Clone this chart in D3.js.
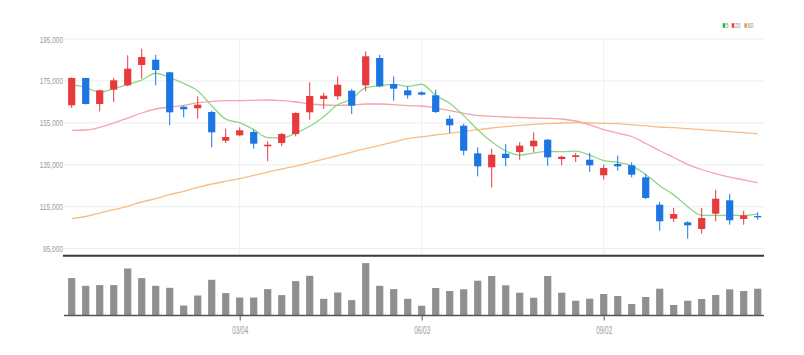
<!DOCTYPE html>
<html><head><meta charset="utf-8">
<script src="https://cdn.jsdelivr.net/npm/d3@7"></script>
<style>html,body{margin:0;padding:0;background:#fff;}svg{display:block;font-family:"Liberation Sans",Arial,sans-serif;}</style>
</head><body><svg id="chart" width="804" height="355"></svg>
<script>
const dates = ["12/11","12/18","12/25","01/01","01/08","01/15","01/22","01/29","02/05","02/12","02/19","02/26","03/04","03/11","03/18","03/25","04/01","04/08","04/15","04/22","04/29","05/06","05/13","05/20","05/27","06/03","06/10","06/17","06/24","07/01","07/08","07/15","07/22","07/29","08/05","08/12","08/19","08/26","09/02","09/09","09/16","09/23","09/30","10/07","10/14","10/21","10/28","11/04","11/11","11/18"];
const open  = [163380,176400,164000,170820,172920,182600,185130,179120,162710,161950,160190,146500,149070,150650,143830,145400,149700,160040,166390,167670,170340,172920,185940,173540,170530,169580,168150,156990,153650,140490,133810,140300,141110,143830,146980,137770,138730,137440,130000,135390,134770,129040,115980,109300,107580,104390,111690,118070,109160,110590];
const high  = [176730,176500,170820,176400,187230,190370,187510,179300,163190,167670,160810,152220,152890,151750,146210,150170,160040,174350,169250,177210,171150,189130,187510,177210,172440,170060,170820,158610,154610,143350,142680,144930,145880,150500,147310,139350,140630,140630,135050,139350,136200,130620,117270,114400,108060,114400,123130,121220,113100,112350];
const low   = [162100,163800,160520,164960,172440,176070,172920,153840,157660,157000,143350,145400,148600,142680,136680,143830,148600,156510,161620,166050,159230,170060,171970,165580,166530,168150,159710,150170,139540,129520,124280,134290,137440,140960,134580,134770,136340,131570,127900,132190,129040,118700,103580,107730,99760,102150,108060,106440,106440,108820];
const close = [176400,164000,170530,175300,180840,186420,180220,160040,161470,163670,150500,148260,151460,145070,144590,149700,159710,167820,167960,173210,163190,186750,172440,171300,168150,168440,160190,153840,141730,134290,139820,138250,144120,146500,138560,138870,139540,134770,133480,134290,130290,119170,108060,111540,106150,109640,118840,108540,110920,109970];
const ma5  = [173200,171800,169700,171300,173410,175420,178660,176560,173800,170360,163180,156790,155070,151790,147980,147820,150110,153380,157960,163680,166380,171790,172710,173380,172370,173420,168100,164380,158470,151700,145970,141590,139640,140600,141450,141260,141520,139650,137040,136190,134470,130400,125060,120670,115040,110910,110850,110940,110820,111580];
const ma20 = [151460,151600,152890,154940,157320,159710,161620,162570,163380,164620,165290,165580,165580,165770,165910,165580,164960,164000,163520,163380,163520,164000,164000,163670,163190,163050,162100,160810,159570,158610,158140,157800,157560,157320,157180,156850,155900,154100,151840,150170,148500,145160,141730,138490,135240,132770,130760,129090,127850,126470];
const ma60 = [109300,110350,112020,113590,115220,117270,118840,120750,122370,124280,125850,127140,128380,130000,131570,133010,134430,136010,137770,139350,141110,142690,144310,145880,147450,148410,149220,150030,150980,151750,152560,153180,153850,154330,154610,154940,155080,154940,154800,154610,154130,153650,153030,152700,152220,151750,151270,150790,150320,149700];
const volume = [374,297,304,304,470,374,297,277,100,200,357,224,180,180,264,204,344,397,167,230,154,524,297,264,167,98,275,245,262,348,395,302,228,178,395,228,148,168,215,195,115,185,268,105,148,165,205,262,245,268];
const yTicks = [95000,115000,135000,155000,175000,195000];
const xTickLabels = ["03/04","06/03","09/02"];
const legendItems = ["5","20","60"];

const svg = d3.select("#chart");
svg.append("rect").attr("width",804).attr("height",355).attr("fill","#fff");

const x = d3.scalePoint().domain(dates).range([64.7,764.7]).padding(0.5);
const y = d3.scaleLinear().domain([95000,195000]).range([248.7,39]);
const yv = d3.scaleLinear().domain([0,550]).range([315.5,260.5]);
const bodyW = 7.2;
const UP = "#e8393d", DOWN = "#1b76e4";

// horizontal grid
svg.append("g").selectAll("line").data(yTicks).join("line")
  .attr("x1",64).attr("x2",764).attr("y1",d=>y(d)).attr("y2",d=>y(d))
  .attr("stroke","#ececec").attr("stroke-width",1);
// vertical grid
svg.append("g").selectAll("line").data(xTickLabels).join("line")
  .attr("x1",d=>x(d)).attr("x2",d=>x(d)).attr("y1",39).attr("y2",255)
  .attr("stroke","#efefef").attr("stroke-width",1);

// y axis labels
const yAxis = svg.append("g").attr("transform","translate(64,0)")
  .call(d3.axisLeft(y).tickValues(yTicks).tickFormat(d3.format(",")).tickSize(0).tickPadding(1));
yAxis.select(".domain").remove();
yAxis.selectAll("text").attr("fill","#9a9a9a").attr("font-size","9.5px")
  .attr("textLength",function(d){return d3.format(",")(d).length*3.33;})
  .attr("lengthAdjust","spacingAndGlyphs");

// MA lines
const lineGen = arr => d3.line().x((d,i)=>x(dates[i])).y(d=>y(d)).curve(d3.curveMonotoneX)(arr);
svg.append("path").attr("d",lineGen(ma60)).attr("fill","none").attr("stroke","#f7bd86").attr("stroke-width",1.3);
svg.append("path").attr("d",lineGen(ma20)).attr("fill","none").attr("stroke","#f4a4aa").attr("stroke-width",1.3);
svg.append("path").attr("d",lineGen(ma5)).attr("fill","none").attr("stroke","#8cd68a").attr("stroke-width",1.3);

// candles
const cg = svg.append("g").selectAll("g").data(dates).join("g");
cg.append("line")
  .attr("x1",d=>x(d)).attr("x2",d=>x(d))
  .attr("y1",(d,i)=>y(high[i])).attr("y2",(d,i)=>y(low[i]))
  .attr("stroke",(d,i)=>close[i]>=open[i]?UP:DOWN).attr("stroke-width",1);
cg.append("rect")
  .attr("x",d=>x(d)-bodyW/2).attr("width",bodyW)
  .attr("y",(d,i)=>y(Math.max(open[i],close[i])))
  .attr("height",(d,i)=>Math.max(1,Math.abs(y(open[i])-y(close[i]))))
  .attr("fill",(d,i)=>close[i]>=open[i]?UP:DOWN);

// separator line
svg.append("line").attr("x1",63).attr("x2",764).attr("y1",255.7).attr("y2",255.7)
  .attr("stroke","#3a3a3a").attr("stroke-width",2);

// volume bars
svg.append("g").selectAll("rect").data(volume).join("rect")
  .attr("x",(d,i)=>x(dates[i])-bodyW/2).attr("width",bodyW)
  .attr("y",d=>yv(d)).attr("height",d=>yv(0)-yv(d))
  .attr("fill","#8f8f8f");

// x axis
const xAxis = svg.append("g").attr("transform","translate(0,315.5)")
  .call(d3.axisBottom(x).tickValues(xTickLabels).tickSize(5).tickPadding(6));
xAxis.select(".domain").remove();
xAxis.selectAll(".tick line").attr("stroke","#555");
xAxis.selectAll("text").attr("fill","#9a9a9a").attr("font-size","11px")
  .attr("textLength",16).attr("lengthAdjust","spacingAndGlyphs");
svg.append("line").attr("x1",64).attr("x2",764).attr("y1",315.5).attr("y2",315.5)
  .attr("stroke","#555").attr("stroke-width",1.5);

// legend
const legColors = ["#22b82a","#e8413f","#f29a36"];
const legX = [722.7,731.7,744.3];
const legW = [2.6,5.6,6];
const lg = svg.append("g");
legendItems.forEach((t,i)=>{
  lg.append("rect").attr("x",legX[i]).attr("y",23.2).attr("width",2.6).attr("height",4.6).attr("fill",legColors[i]);
  lg.append("text").attr("x",legX[i]+3.2).attr("y",28).attr("font-size","7px").attr("fill","#888")
    .attr("textLength",legW[i]).attr("lengthAdjust","spacingAndGlyphs").text(t);
});
</script></body></html>
